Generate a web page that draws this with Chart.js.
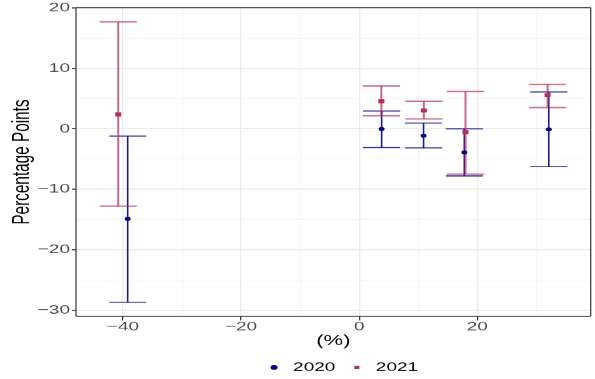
<!DOCTYPE html>
<html>
<head>
<meta charset="utf-8">
<script src="https://cdn.jsdelivr.net/npm/chart.js@4.4.1/dist/chart.umd.min.js"></script>
<style>
  html, body { margin: 0; padding: 0; background: #fff; overflow: hidden; }
  /* the reference is squashed vertically, so draw tall and squeeze */
  #wrap { width: 595px; height: 569px; transform: scaleY(0.6661); transform-origin: 0 0; }
</style>
</head>
<body>
<div id="wrap"><canvas id="errChart"></canvas></div>
<script>
/* =========================================
   DATA
   ========================================= */
const years = ['2020', '2021'];

const x2020   = [-39.2, 3.8, 10.9, 17.8, 32.1];
const mid2020 = [-14.9, -0.05, -1.15, -3.9, -0.1];
const lo2020  = [-28.7, -3.1, -3.15, -7.8, -6.25];
const hi2020  = [-1.2, 2.95, 0.95, 0.0, 6.1];

const x2021   = [-40.8, 3.75, 10.95, 18.0, 31.9];
const mid2021 = [2.4, 4.55, 3.05, -0.55, 5.55];
const lo2021  = [-12.8, 2.15, 1.65, -7.5, 3.5];
const hi2021  = [17.7, 7.1, 4.55, 6.2, 7.35];

const xTicks = [-40, -20, 0, 20];
const yTicks = [-30, -20, -10, 0, 10, 20];

const CAP = 3.15;   // half width of error bar caps (x units)
const NAVY = '#000080';
const MAROON = '#B03060';
const FONT = "'Liberation Sans', Arial, sans-serif";

/* =========================================
   HELPERS
   ========================================= */
function fmt(v) {
  return v < 0 ? '\u2212' + Math.abs(v) : String(v);
}

function points(xs, ys) {
  return xs.map((x, i) => ({ x: x, y: ys[i] }));
}

function stems(xs, lo, hi) {
  return xs.flatMap((x, i) => [{ x: x, y: lo[i] }, { x: x, y: hi[i] }, { x: x, y: null }]);
}

function caps(xs, lo, hi) {
  return xs.flatMap((x, i) => [
    { x: x - CAP, y: hi[i] }, { x: x + CAP, y: hi[i] }, { x: x, y: null },
    { x: x - CAP, y: lo[i] }, { x: x + CAP, y: lo[i] }, { x: x, y: null }
  ]);
}

function lineSet(label, data, color, width) {
  return {
    label: label, data: data, showLine: true, spanGaps: false,
    borderColor: color, borderWidth: width, pointRadius: 0, pointHoverRadius: 0
  };
}

/* panel border on all four sides, like theme_bw */
const panelBorder = {
  id: 'panelBorder',
  afterDatasetsDraw(chart) {
    const { ctx, chartArea: a } = chart;
    ctx.save();
    ctx.strokeStyle = '#333333';
    ctx.lineWidth = 1.5;
    ctx.beginPath();
    ctx.moveTo(a.left, a.top); ctx.lineTo(a.right, a.top);
    ctx.moveTo(a.left, a.bottom); ctx.lineTo(a.right, a.bottom);
    ctx.stroke();
    ctx.lineWidth = 1.2;
    ctx.beginPath();
    ctx.moveTo(a.left, a.top); ctx.lineTo(a.left, a.bottom);
    ctx.moveTo(a.right, a.top); ctx.lineTo(a.right, a.bottom);
    ctx.stroke();
    ctx.restore();
  }
};

/* centre the legend under the panel instead of the canvas */
const legendShift = {
  id: 'legendShift',
  afterLayout(chart) {
    const lg = chart.legend;
    if (!lg) return;
    lg.left += 45;
    lg.right += 45;
  }
};

/* =========================================
   CHART
   ========================================= */
const ctx = document.getElementById('errChart').getContext('2d');

new Chart(ctx, {
  type: 'scatter',
  data: {
    datasets: [
      {
        label: years[0], data: points(x2020, mid2020),
        pointStyle: 'circle', pointRadius: 3, pointHoverRadius: 3,
        backgroundColor: NAVY, borderColor: NAVY, borderWidth: 0
      },
      {
        label: years[1], data: points(x2021, mid2021),
        pointStyle: 'rect', pointRadius: 4.3, pointHoverRadius: 4.3,
        backgroundColor: MAROON, borderColor: MAROON, borderWidth: 0
      },
      lineSet('caps2021', caps(x2021, lo2021, hi2021), 'rgba(176,48,96,0.72)', 2),
      lineSet('stems2021', stems(x2021, lo2021, hi2021), 'rgba(176,48,96,0.72)', 2),
      lineSet('caps2020', caps(x2020, lo2020, hi2020), 'rgba(0,0,140,0.85)', 1.6),
      lineSet('stems2020', stems(x2020, lo2020, hi2020), 'rgba(0,0,140,0.9)', 1.6)
    ]
  },
  options: {
    responsive: true,
    maintainAspectRatio: false,
    animation: false,
    devicePixelRatio: 1,
    layout: { padding: { top: 10.5, right: 2.3, left: 0, bottom: -2 } },
    plugins: {
      tooltip: { enabled: false },
      legend: {
        position: 'bottom',
        labels: {
          usePointStyle: true,
          boxWidth: 19,
          boxHeight: 5,
          padding: 12,
          color: '#000000',
          font: { family: FONT, size: 19 },
          filter: item => item.datasetIndex < 2
        }
      }
    },
    scales: {
      x: {
        type: 'linear',
        min: -47.95,
        max: 39.2,
        afterFit: s => { s.height = 55; },
        border: { display: false },
        grid: {
          color: c => (xTicks.includes(Math.round(c.tick.value)) ? '#EBEBEB' : '#F4F4F4'),
          lineWidth: c => (xTicks.includes(Math.round(c.tick.value)) ? 1.3 : 0.8),
          tickColor: c => (xTicks.includes(Math.round(c.tick.value)) ? '#333333' : 'rgba(0,0,0,0)'),
          tickWidth: 1.2,
          tickLength: 6
        },
        ticks: {
          stepSize: 10,
          includeBounds: false,
          autoSkip: false,
          maxRotation: 0,
          padding: 0,
          color: '#4D4D4D',
          font: { family: FONT, size: 19, lineHeight: 1 },
          callback: v => (xTicks.includes(Math.round(v)) ? fmt(Math.round(v)) : '')
        },
        title: {
          display: true,
          text: '(%)',
          color: '#000000',
          font: { family: FONT, size: 22, lineHeight: 1.2 },
          padding: { top: 0, bottom: 5.3 }
        }
      },
      y: {
        min: -31.05,
        max: 20.05,
        afterFit: s => { s.width = 76; },
        border: { display: false },
        grid: {
          color: c => (yTicks.includes(Math.round(c.tick.value)) ? '#EBEBEB' : '#F4F4F4'),
          lineWidth: c => (yTicks.includes(Math.round(c.tick.value)) ? 1.8 : 1.1),
          tickColor: c => (yTicks.includes(Math.round(c.tick.value)) ? '#333333' : 'rgba(0,0,0,0)'),
          tickWidth: 1.6,
          tickLength: 4
        },
        ticks: {
          stepSize: 5,
          includeBounds: false,
          autoSkip: false,
          padding: 2,
          color: '#4D4D4D',
          font: { family: FONT, size: 19, lineHeight: 1 },
          callback: v => (yTicks.includes(Math.round(v)) ? fmt(Math.round(v)) : '')
        },
        title: {
          display: true,
          text: 'Percentage Points',
          color: '#000000',
          font: { family: FONT, size: 23, lineHeight: 1.2 },
          padding: { top: 9, bottom: 0 }
        }
      }
    }
  },
  plugins: [panelBorder, legendShift]
});
</script>
</body>
</html>
